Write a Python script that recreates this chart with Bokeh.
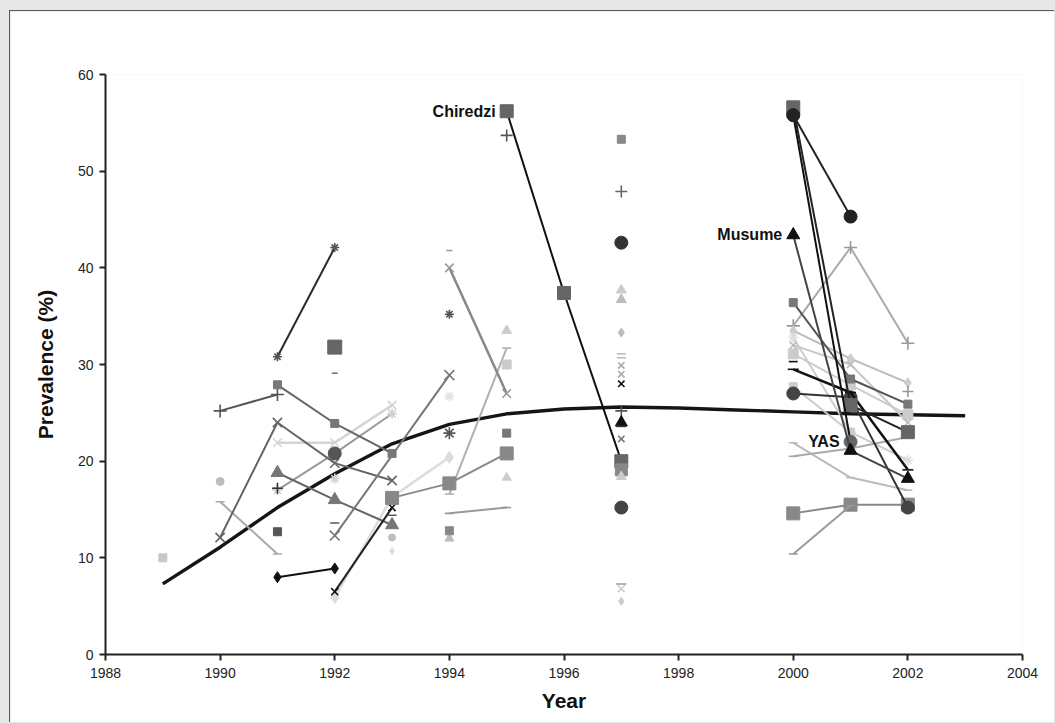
from bokeh.plotting import figure
from bokeh.models import Range1d, FixedTicker, ColumnDataSource
from bokeh.layouts import column
from bokeh.core.properties import value
from bokeh.embed import file_html
from bokeh.resources import INLINE

# ---------------- data ----------------
trend_year = [1989, 1990, 1991, 1992, 1993, 1994, 1995, 1996, 1997, 1998, 1999, 2000, 2001, 2002, 2003]
trend_prev = [7.3, 11.1, 15.2, 18.7, 21.8, 23.8, 24.9, 25.4, 25.6, 25.5, 25.3, 25.1, 24.9, 24.8, 24.7]

x_ticks = [1988, 1990, 1992, 1994, 1996, 1998, 2000, 2002, 2004]
y_ticks = [0, 10, 20, 30, 40, 50, 60]

# site series: (years, prevalence %)
s01 = ([1989], [10.0])
s02 = ([1990, 1991], [25.2, 26.9])
s03 = ([1990], [17.9])
s04 = ([1990, 1991], [15.8, 10.4])
s05 = ([1990, 1991, 1992, 1993], [12.1, 24.0, 19.8, 18.0])
s06 = ([1991, 1992], [30.8, 42.1])
s07 = ([1991, 1992, 1993], [27.9, 23.9, 20.8])
s08 = ([1991, 1992, 1993], [21.9, 21.9, 25.8])
s09 = ([1991, 1992, 1993], [18.8, 16.0, 13.4])
s10 = ([1991, 1992, 1993], [17.0, 20.8, 24.9])
s10b = ([1992], [20.8])
s10c = ([1991], [17.2])
s11 = ([1991], [12.7])
s12 = ([1991, 1992], [8.0, 8.9])
s13 = ([1992], [31.8])
s14 = ([1992], [29.1])
s15 = ([1992, 1994], [12.3, 28.9])
s16 = ([1992, 1993, 1994], [5.9, 16.3, 20.4])
s17 = ([1992, 1993], [6.5, 15.2])
s18 = ([1993, 1994, 1995], [16.2, 17.7, 20.8])
s19 = ([1992, 1993], [13.6, 14.4])
s19b = ([1992], [18.2])
s19c = ([1993], [12.1])
s19d = ([1993], [10.7])
s20 = ([1994, 1995], [40.0, 27.0])
s21 = ([1994], [41.8])
s21b = ([1994], [35.2])
s21c = ([1994], [26.7])
s21d = ([1994], [22.9])
s22 = ([1994, 1995], [16.6, 31.7])
s23 = ([1994, 1995], [14.6, 15.2])
s24 = ([1994], [12.8])
s24b = ([1994], [12.0])
s25 = ([1995], [33.5])
s25b = ([1995], [30.0])
s25c = ([1995], [22.9])
s25d = ([1995], [18.3])
chiredzi = ([1995, 1996, 1997], [56.2, 37.4, 20.0])
s26 = ([1995], [53.7])
s26b = ([1996], [37.1])
y1997_prev = [53.3, 47.9, 42.6, 37.7, 36.7, 33.3, 31.1, 30.7, 29.9, 29.0, 28.0,
              25.2, 24.0, 23.6, 22.3, 19.1, 18.4, 15.2, 7.3, 6.8, 5.5]
y1997_mark = ["square", "cross", "circle", "triangle", "triangle", "diamond", "dash", "dash", "x", "x", "x",
              "cross", "triangle", "dash", "x", "square", "triangle", "circle", "dash", "x", "diamond"]
t01 = ([2000, 2001], [55.8, 45.3])
t02 = ([2000, 2001, 2002], [56.6, 25.8, 23.0])
yas = ([2000, 2001], [55.8, 22.0])
musume = ([2000, 2001, 2002], [43.4, 21.1, 18.2])
t03 = ([2000, 2001, 2002], [36.4, 28.5, 25.9])
t04 = ([2000, 2001, 2002], [34.0, 42.1, 32.2])
t05 = ([2000, 2001, 2002], [33.5, 30.6, 28.1])
t06 = ([2000, 2001, 2002], [32.8, 23.0, 20.1])
t07 = ([2000, 2001, 2002], [31.1, 27.9, 24.8])
t08 = ([2000, 2001, 2002], [29.5, 27.1, 19.1])
t09 = ([2000, 2001, 2002], [27.0, 26.6, 15.2])
t10 = ([2000, 2001], [27.7, 23.0])
t11 = ([2000, 2001, 2002], [21.9, 18.3, 17.0])
t12 = ([2000, 2001, 2002], [20.5, 21.3, 22.5])
t13 = ([2000, 2001, 2002], [14.6, 15.5, 15.5])
t14 = ([2000, 2001], [10.4, 15.4])
t15 = ([2000], [30.3])
t16 = ([2002], [27.2])
t17 = ([2000, 2001, 2002], [32.0, 30.0, 24.0])

label_text = ["Chiredzi", "Musume", "YAS"]
label_year = [1995, 2000, 2001]
label_prev = [56.2, 43.4, 22.0]

# ---------------- styles: (series, marker, size, marker colour, line colour, line width) ----------------
series_styles = [
    (s01, "square", 8, "#c8c8c8", None, 0),
    (s03, "circle", 8, "#bdbdbd", None, 0),
    (s04, "dash", 9, "#aaaaaa", "#aaaaaa", 2),
    (s08, "x", 12, "#d4d4d4", "#d4d4d4", 2.5),
    (s10, "asterisk", 10, "#cfcfcf", "#9a9a9a", 2),
    (s16, "diamond", 12, "#dcdcdc", "#dcdcdc", 2.5),
    (s19b, "asterisk", 10, "#d0d0d0", None, 0),
    (s19c, "circle", 7, "#bdbdbd", None, 0),
    (s19d, "diamond", 7, "#dedede", None, 0),
    (s21c, "asterisk", 10, "#e2e2e2", None, 0),
    (s22, "dash", 9, "#b0b0b0", "#b0b0b0", 2),
    (s23, "dash", 9, "#999999", "#999999", 2),
    (s24b, "triangle", 9, "#bdbdbd", None, 0),
    (s25, "triangle", 10, "#cccccc", None, 0),
    (s25b, "square", 9, "#cccccc", None, 0),
    (s25d, "triangle", 9, "#cccccc", None, 0),
    (s02, "cross", 13, "#555555", "#555555", 2),
    (s05, "x", 13, "#666666", "#666666", 2),
    (s06, "asterisk", 9, "#555555", "#2a2a2a", 2),
    (s07, "square", 8, "#777777", "#666666", 2),
    (s09, "triangle", 13, "#777777", "#666666", 2),
    (s10b, "circle", 13, "#555555", None, 0),
    (s10c, "cross", 11, "#333333", None, 0),
    (s11, "square", 8, "#555555", None, 0),
    (s12, "diamond", 11, "#111111", "#111111", 2),
    (s13, "square", 14, "#666666", None, 0),
    (s14, "dash", 6, "#777777", None, 0),
    (s15, "x", 14, "#777777", "#777777", 2),
    (s17, "x", 10, "#111111", "#222222", 2),
    (s18, "square", 13, "#888888", "#888888", 2),
    (s19, "dash", 9, "#555555", None, 0),
    (s20, "x", 12, "#999999", "#888888", 2.5),
    (s21, "dash", 6, "#999999", None, 0),
    (s21b, "asterisk", 9, "#555555", None, 0),
    (s21d, "asterisk", 12, "#555555", None, 0),
    (s24, "square", 8, "#888888", None, 0),
    (s25c, "square", 8, "#777777", None, 0),
    (s26, "cross", 12, "#555555", None, 0),
    (s26b, "x", 9, "#555555", None, 0),
    (chiredzi, "square", 13, "#666666", "#111111", 2),
    (t04, "cross", 13, "#999999", "#aaaaaa", 2),
    (t05, "diamond", 10, "#cccccc", "#bbbbbb", 2),
    (t06, "asterisk", 10, "#dddddd", "#cccccc", 2),
    (t07, "square", 10, "#cccccc", "#cccccc", 2),
    (t10, "square", 8, "#cccccc", "#cccccc", 2),
    (t11, "dash", 9, "#bbbbbb", "#bbbbbb", 2),
    (t12, "dash", 9, "#aaaaaa", "#aaaaaa", 2),
    (t17, "x", 10, "#bbbbbb", "#c8c8c8", 2),
    (t13, "square", 13, "#888888", "#888888", 2),
    (t14, "dash", 9, "#999999", "#999999", 2),
    (t03, "square", 8, "#777777", "#555555", 2),
    (t09, "circle", 13, "#444444", "#333333", 2),
    (t08, "dash", 11, "#111111", "#111111", 2.5),
    (t15, "dash", 9, "#111111", None, 0),
    (t16, "cross", 11, "#999999", None, 0),
    (t02, "square", 13, "#666666", "#222222", 2),
    (yas, "circle", 13, "#666666", "#111111", 2),
    (t01, "circle", 13, "#222222", "#222222", 2),
    (musume, "triangle", 13, "#111111", "#444444", 2),
]

p = figure(width=1045, height=712, x_range=Range1d(1988, 2004), y_range=Range1d(0, 60),
           output_backend="svg", toolbar_location=None,
           min_border_left=95, min_border_right=33, min_border_top=63, min_border_bottom=69)
p.margin = (10, 0, 0, 9)
p.styles = {"border-left": "1px solid #5a5a5a", "border-top": "1px solid #5a5a5a"}
p.background_fill_color = "white"
p.border_fill_color = "white"
p.outline_line_color = None
p.xgrid.visible = False
p.ygrid.visible = False

font = "Liberation Sans"
for ax in (p.xaxis[0], p.yaxis[0]):
    ax.axis_line_color = "#222222"
    ax.axis_line_width = 2
    ax.major_tick_line_color = "#222222"
    ax.major_tick_line_width = 2
    ax.major_tick_in = 0
    ax.major_tick_out = 6
    ax.minor_tick_line_color = None
    ax.major_label_text_font = font
    ax.major_label_text_font_size = "14px"
    ax.major_label_text_color = "#222222"
    ax.axis_label_text_font = font
    ax.axis_label_text_font_size = "21px"
    ax.axis_label_text_font_style = "bold"
    ax.axis_label_text_color = "#111111"

p.xaxis.ticker = FixedTicker(ticks=x_ticks)
p.yaxis.ticker = FixedTicker(ticks=y_ticks)
p.xaxis.axis_label = "Year"
p.yaxis.axis_label = "Prevalence (%)"
p.xaxis.major_label_standoff = 7
p.yaxis.major_label_standoff = 6
p.xaxis.axis_label_standoff = 8
p.yaxis.axis_label_standoff = 18

# trend line
p.line(trend_year, trend_prev, line_color="#151515", line_width=3.4)

for (yrs, vals), marker, size, mcol, lcol, lw in series_styles:
    if lcol is not None and len(yrs) > 1:
        p.line(yrs, vals, line_color=lcol, line_width=lw)
    if marker in ("x", "cross", "asterisk", "dash"):
        p.scatter(yrs, vals, marker=marker, size=size, line_color=mcol, line_width=1.6, fill_color=None)
    else:
        p.scatter(yrs, vals, marker=marker, size=size, fill_color=mcol, line_color=mcol, line_width=1)

# 1997 survey points (no connecting lines)
c97 = ["#888888", "#666666", "#333333", "#cccccc", "#bbbbbb", "#bbbbbb", "#bbbbbb", "#bbbbbb", "#aaaaaa", "#aaaaaa",
       "#111111", "#555555", "#111111", "#333333", "#777777", "#888888", "#cccccc", "#444444", "#999999", "#cccccc", "#cccccc"]
s97 = [8, 12, 13, 10, 10, 9, 9, 9, 9, 9, 9, 12, 12, 10, 9, 12, 10, 13, 10, 10, 8]
for v, m, c, s in zip(y1997_prev, y1997_mark, c97, s97):
    if m in ("x", "cross", "asterisk", "dash"):
        p.scatter([1997], [v], marker=m, size=s, line_color=c, line_width=1.6, fill_color=None)
    else:
        p.scatter([1997], [v], marker=m, size=s, fill_color=c, line_color=c)

src = ColumnDataSource(dict(x=label_year, y=label_prev, t=label_text))
p.text(x="x", y="y", text="t", source=src, x_offset=-11, text_align="right", text_baseline="middle",
       text_font=value(font), text_font_size="16px", text_font_style="bold", text_color="#111111")

layout = column(p, width=1055, height=723, styles={"background-color": "#e6e7e9"})

open("out.html", "w").write(file_html(layout, INLINE))
